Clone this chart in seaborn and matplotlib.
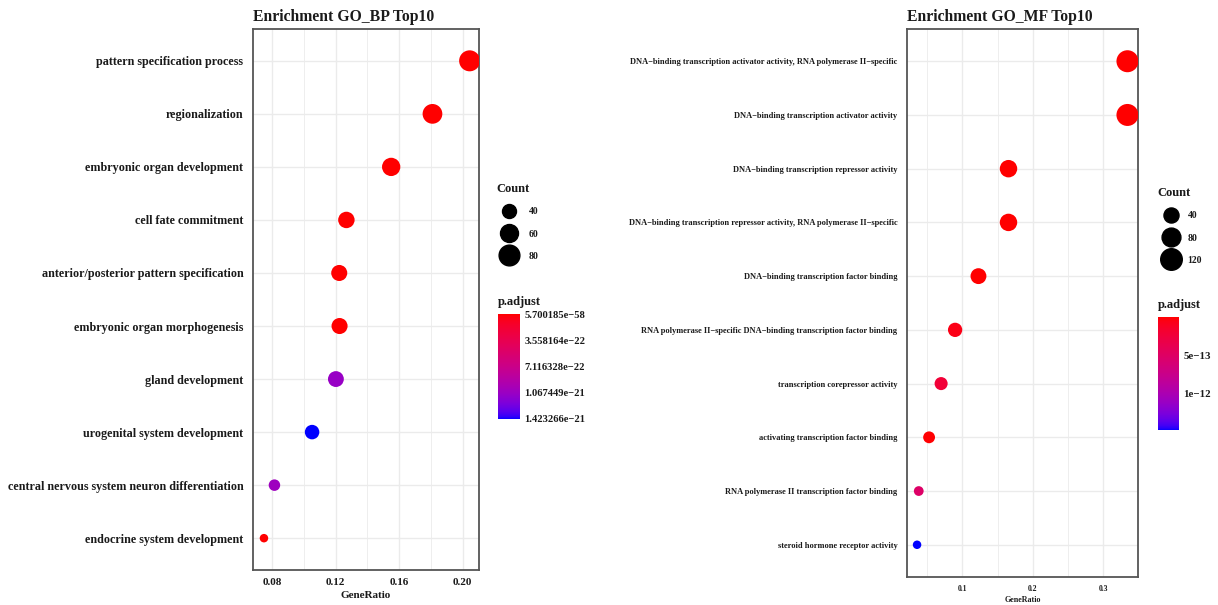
import numpy as np
import pandas as pd
import matplotlib
matplotlib.use("Agg")
import matplotlib.pyplot as plt
import seaborn as sns
from matplotlib.colors import ListedColormap, Normalize
from matplotlib.cm import ScalarMappable
from matplotlib.lines import Line2D
from matplotlib.ticker import FixedLocator

# ---------------- data ----------------
bp_terms = [
    "pattern specification process",
    "regionalization",
    "embryonic organ development",
    "cell fate commitment",
    "anterior/posterior pattern specification",
    "embryonic organ morphogenesis",
    "gland development",
    "urogenital system development",
    "central nervous system neuron differentiation",
    "endocrine system development",
]
bp_ratio = [0.2044, 0.1810, 0.1550, 0.1268, 0.1223, 0.1225, 0.1202, 0.1052, 0.0815, 0.0749]
bp_count = [82, 72, 62, 51, 49, 49, 48, 42, 33, 30]
bp_padj = [5.700185e-58, 1e-50, 2e-45, 1e-40, 3e-38, 1e-36, 1.08e-21, 1.423266e-21, 1.04e-21, 2e-24]
bp_cbar_ticks = [5.700185e-58, 3.558164e-22, 7.116328e-22, 1.067449e-21, 1.423266e-21]
bp_cbar_labels = ["5.700185e\u221258", "3.558164e\u221222", "7.116328e\u221222",
                  "1.067449e\u221221", "1.423266e\u221221"]
bp_legend_counts = [40, 60, 80]
bp_xticks = [0.08, 0.12, 0.16, 0.20]

mf_terms = [
    "DNA\u2212binding transcription activator activity, RNA polymerase II\u2212specific",
    "DNA\u2212binding transcription activator activity",
    "DNA\u2212binding transcription repressor activity",
    "DNA\u2212binding transcription repressor activity, RNA polymerase II\u2212specific",
    "DNA\u2212binding transcription factor binding",
    "RNA polymerase II\u2212specific DNA\u2212binding transcription factor binding",
    "transcription corepressor activity",
    "activating transcription factor binding",
    "RNA polymerase II transcription factor binding",
    "steroid hormone receptor activity",
]
mf_ratio = [0.3346, 0.3346, 0.1655, 0.1655, 0.1228, 0.0896, 0.0697, 0.0526, 0.0379, 0.0355]
mf_count = [127, 127, 63, 63, 47, 34, 26, 20, 14, 13]
mf_padj = [2e-30, 5e-29, 1e-25, 3e-24, 1e-20, 6e-14, 2.2e-13, 8e-15, 5.2e-13, 1.48e-12]
mf_cbar_ticks = [5e-13, 1e-12]
mf_cbar_labels = ["5e\u221213", "1e\u221212"]
mf_legend_counts = [40, 80, 120]
mf_xticks = [0.1, 0.2, 0.3]

# ---------------- colour map: red -> blue interpolated in Lab (like ggplot) ----------------
def _srgb_to_lin(c):
    c = np.asarray(c, float)
    return np.where(c <= 0.04045, c / 12.92, ((c + 0.055) / 1.055) ** 2.4)

def _lin_to_srgb(c):
    c = np.clip(c, 0, 1)
    return np.where(c <= 0.0031308, 12.92 * c, 1.055 * c ** (1 / 2.4) - 0.055)

M = np.array([[0.4124, 0.3576, 0.1805], [0.2126, 0.7152, 0.0722], [0.0193, 0.1192, 0.9505]])
WHITE = np.array([0.95047, 1.0, 1.08883])

def rgb_to_lab(rgb):
    xyz = M @ _srgb_to_lin(rgb) / WHITE
    f = np.where(xyz > 0.008856, np.cbrt(xyz), 7.787 * xyz + 16 / 116)
    return np.array([116 * f[1] - 16, 500 * (f[0] - f[1]), 200 * (f[1] - f[2])])

def lab_to_rgb(lab):
    fy = (lab[0] + 16) / 116
    fx = fy + lab[1] / 500
    fz = fy - lab[2] / 200
    f = np.array([fx, fy, fz])
    xyz = np.where(f ** 3 > 0.008856, f ** 3, (f - 16 / 116) / 7.787) * WHITE
    return _lin_to_srgb(np.linalg.inv(M) @ xyz)

lab_lo = rgb_to_lab([1, 0, 0])
lab_hi = rgb_to_lab([0, 0, 1])
cols = [lab_to_rgb(lab_lo + t * (lab_hi - lab_lo)) for t in np.linspace(0, 1, 256)]
cmap = ListedColormap(cols)

# ---------------- helpers ----------------
SERIF = "Liberation Serif"
TXT = "#1a1a1a"
DPI = 100

def diam_px(c, cmin, cmax, dmin, dmax):
    t = np.clip((np.asarray(c, float) - cmin) / (cmax - cmin), 0, 1)
    return dmin + (dmax - dmin) * np.sqrt(t)

def area_pt2(d):
    return (d * 72.0 / DPI) ** 2

W, H = 1218, 605
fig = plt.figure(figsize=(W / DPI, H / DPI), dpi=DPI)
sns.set_style("white")
plt.rcParams["font.family"] = [SERIF, "DejaVu Serif"]

def fig_rect(l, t, r, b):
    return [l / W, 1 - b / H, (r - l) / W, (b - t) / H]

def panel(rect, terms, ratio, count, padj, title, xticks, xminor, xlim, ylab_fs,
          xtick_fs, xlab_fs, xlab_pad, smin, smax, dmin, dmax):
    ax = fig.add_axes(rect)
    df = pd.DataFrame({"Description": terms, "GeneRatio": ratio,
                       "Count": count, "p.adjust": padj})
    norm = Normalize(min(padj), max(padj))
    size_map = {c: area_pt2(diam_px(c, smin, smax, dmin, dmax)) for c in sorted(set(count))}
    sns.scatterplot(data=df, x="GeneRatio", y="Description", size="Count",
                    sizes=size_map, hue="p.adjust", hue_norm=norm, palette=cmap,
                    edgecolor="none", linewidth=0, legend=False, ax=ax, zorder=3)
    ax.set_xlim(*xlim)
    ax.set_ylim(len(terms) - 1 + 0.6, -0.6)
    ax.xaxis.set_major_locator(FixedLocator(xticks))
    ax.xaxis.set_minor_locator(FixedLocator(xminor))
    ax.set_axisbelow(True)
    ax.grid(True, which="major", color="#ebebeb", linewidth=1.0)
    ax.grid(True, which="minor", axis="x", color="#ebebeb", linewidth=0.6)
    for s in ax.spines.values():
        s.set_color("#555555")
        s.set_linewidth(1.3)
    ax.tick_params(axis="both", which="major", length=3, width=1.0, color="#333333",
                   labelcolor=TXT)
    ax.tick_params(axis="y", pad=4, labelsize=ylab_fs)
    ax.tick_params(axis="x", pad=3, labelsize=xtick_fs)
    ax.tick_params(axis="x", which="minor", length=0)
    for lab in ax.get_yticklabels() + ax.get_xticklabels():
        lab.set_fontweight("bold")
    ax.set_ylabel("")
    ax.set_xlabel("GeneRatio", fontsize=xlab_fs, fontweight="bold", color=TXT,
                  labelpad=xlab_pad)
    ax.set_title(title, loc="left", fontsize=11.3, fontweight="bold", color=TXT, pad=6)
    return ax, norm

# ---------------- BP panel ----------------
bp_smin, bp_smax, bp_dmin, bp_dmax = min(bp_count), max(bp_count), 8.5, 21.0
ax1, norm1 = panel(fig_rect(253, 29, 479, 570), bp_terms, bp_ratio, bp_count, bp_padj,
                   "Enrichment GO_BP Top10", bp_xticks, [0.10, 0.14, 0.18],
                   (0.068, 0.2103), 8.7, 8, 8, 3, bp_smin, bp_smax, bp_dmin, bp_dmax)
ax1.set_xticklabels([f"{v:.2f}" for v in bp_xticks], fontweight="bold")

# ---------------- MF panel ----------------
mf_smin, mf_smax, mf_dmin, mf_dmax = min(mf_count), max(mf_count), 8.5, 22.0
ax2, norm2 = panel(fig_rect(907, 29, 1138, 577), mf_terms, mf_ratio, mf_count, mf_padj,
                   "Enrichment GO_MF Top10", mf_xticks, [0.05, 0.15, 0.25],
                   (0.0212, 0.3496), 6.0, 5.5, 5.8, 2, mf_smin, mf_smax, mf_dmin, mf_dmax)
ax2.set_xticklabels([f"{v:.1f}" for v in mf_xticks], fontweight="bold")

# ---------------- legends ----------------
def size_legend(counts, smin, smax, dmin, dmax, x, y, hlen, hpad):
    handles = [Line2D([], [], linestyle="none", marker="o", color="black",
                      markersize=diam_px(c, smin, smax, dmin, dmax) * 72.0 / DPI)
               for c in counts]
    leg = fig.legend(handles, [str(c) for c in counts], title="Count",
                     loc="upper left", bbox_to_anchor=(x / W, 1 - y / H),
                     frameon=False, handlelength=hlen, handletextpad=hpad,
                     labelspacing=1.35, borderaxespad=0, borderpad=0,
                     prop={"family": SERIF, "weight": "bold", "size": 7},
                     title_fontproperties={"family": SERIF, "weight": "bold", "size": 9})
    leg._legend_box.align = "left"
    leg._legend_box.sep = 9
    for t in leg.get_texts():
        t.set_color(TXT)
    leg.get_title().set_color(TXT)
    return leg

size_legend(bp_legend_counts, bp_smin, bp_smax, bp_dmin, bp_dmax, 496, 183, 2.7, 0.7)
size_legend(mf_legend_counts, mf_smin, mf_smax, mf_dmin, mf_dmax, 1157, 187, 2.8, 0.35)

def color_bar(norm, ticks, labels, l, t, r, b, title_y, fs):
    cax = fig.add_axes(fig_rect(l, t, r, b))
    cb = fig.colorbar(ScalarMappable(norm=norm, cmap=cmap), cax=cax)
    cb.outline.set_visible(False)
    cax.invert_yaxis()
    cb.set_ticks(ticks)
    cb.set_ticklabels(labels)
    cax.tick_params(axis="y", direction="in", length=4, width=0.8, color="white",
                    left=True, right=True, labelsize=fs, labelcolor=TXT, pad=3)
    for lab in cax.get_yticklabels():
        lab.set_fontweight("bold")
    fig.text(l / W, 1 - title_y / H, "p.adjust", fontsize=9, fontweight="bold",
             color=TXT, va="center", ha="left")
    return cb

color_bar(norm1, bp_cbar_ticks, bp_cbar_labels, 498, 314, 520, 419, 302, 7.6)
color_bar(norm2, mf_cbar_ticks, mf_cbar_labels, 1158, 317, 1179, 430, 305, 7.8)

fig.savefig("out.png", dpi=DPI, facecolor="white")
